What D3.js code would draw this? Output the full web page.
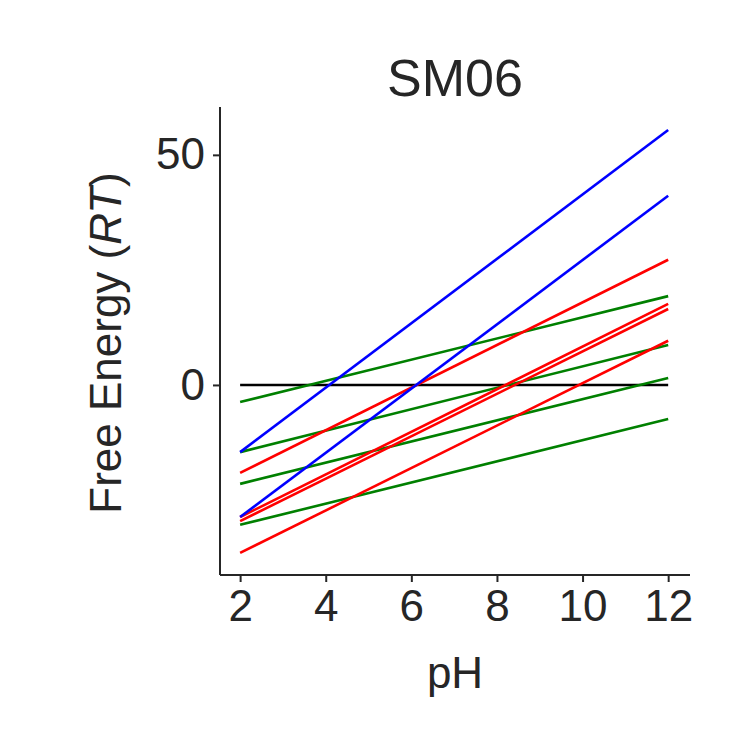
<!DOCTYPE html>
<html><head><meta charset="utf-8">
<script src="https://cdn.jsdelivr.net/npm/d3@7"></script>
<style>body{margin:0;background:#fff}svg{font-family:Arial,"Liberation Sans",sans-serif}</style>
</head><body><svg id="c" width="750" height="750"></svg>
<script>
const xTicks = [2, 4, 6, 8, 10, 12];
const yTicks = [0, 50];
const blueLines = [[-14.6, 55.4], [-28.7, 41.1]];
const redLines = [[-19.1, 27.2], [-28.7, 17.6], [-29.6, 16.5], [-36.5, 9.6]];
const greenLines = [[-3.7, 19.3], [-14.6, 8.7], [-21.5, 1.5], [-30.4, -7.4]];
const zeroLine = [[0, 0]];

const svg = d3.select('#c');
const x = d3.scaleLinear().domain([1.53, 12.51]).range([220, 690]);
const y = d3.scaleLinear().domain([-41.3, 60.4]).range([575, 107]);
const ink = '#262626';

function draw(data, color) {
    svg.selectAll(null).data(data).enter().append('line')
        .attr('x1', x(2)).attr('x2', x(12))
        .attr('y1', d => y(d[0])).attr('y2', d => y(d[1]))
        .attr('stroke', color).attr('stroke-width', 2.6);
}
draw(zeroLine, 'black');
draw(greenLines, 'green');
draw(redLines, 'red');
draw(blueLines, 'blue');

const xa = svg.append('g').attr('transform', 'translate(0,575)')
    .call(d3.axisBottom(x).tickValues(xTicks).tickSize(7).tickPadding(8));
const ya = svg.append('g').attr('transform', 'translate(220,0)')
    .call(d3.axisLeft(y).tickValues(yTicks).tickSize(7).tickPadding(8));
[xa, ya].forEach(a => {
    a.select('.domain').attr('stroke', ink).attr('stroke-width', 2);
    a.selectAll('.tick line').attr('stroke', ink).attr('stroke-width', 2);
    a.selectAll('.tick text').attr('fill', ink).style('font-size', '44px');
});
ya.select('.domain').attr('d', 'M0,107V575');
xa.select('.domain').attr('d', 'M220,0H690');

svg.append('text').attr('x', 455).attr('y', 96).attr('text-anchor', 'middle')
    .attr('fill', ink).style('font-size', '52px').text('SM06');
svg.append('text').attr('x', 455).attr('y', 688).attr('text-anchor', 'middle')
    .attr('fill', ink).style('font-size', '44px').text('pH');
const yl = svg.append('text').attr('transform', 'translate(121,343) rotate(-90)')
    .attr('text-anchor', 'middle').attr('fill', ink).style('font-size', '44px');
yl.append('tspan').text('Free Energy (');
yl.append('tspan').style('font-style', 'italic').text('RT');
yl.append('tspan').text(')');
</script></body></html>
